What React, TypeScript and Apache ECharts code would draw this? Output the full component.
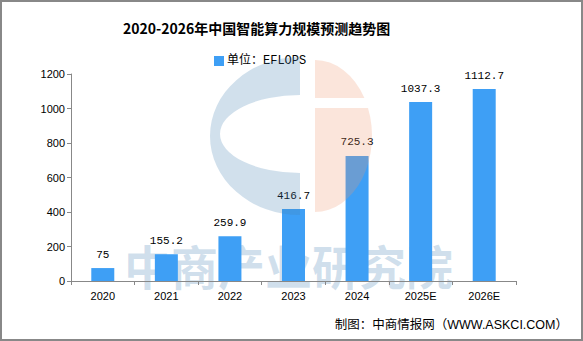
import React, { useEffect, useRef } from "react";
import * as echarts from "echarts";

const categories = ["2020", "2021", "2022", "2023", "2024", "2025E", "2026E"];
const values = [75, 155.2, 259.9, 416.7, 725.3, 1037.3, 1112.7];
const seriesName = "单位：EFLOPS";
const titleText = "2020-2026年中国智能算力规模预测趋势图";
const footerText = "制图：中商情报网（WWW.ASKCI.COM）";
const watermarkText = "中商产业研究院";

const blueLogo =
  "M300,57 A90,79 0 0 0 300,215 L300,173 A80,39 0 0 1 300,95 Z";
const redLogo =
  "M315,60 A57,76 0 0 1 364.4,98 L315,98 Z M315,108 L368,108 A57,76 0 0 1 315,212 Z";

echarts.graphic.registerShape("logoBlue", echarts.graphic.extendPath(blueLogo, {}));
echarts.graphic.registerShape("logoRed", echarts.graphic.extendPath(redLogo, {}));

export default function App() {
  const ref = useRef<HTMLDivElement>(null);
  useEffect(() => {
    if (!ref.current) return;
    const chart = echarts.init(ref.current, null, { renderer: "svg" });
    chart.setOption({
      animation: false,
      backgroundColor: "#ffffff",
      title: {
        text: titleText,
        left: 118,
        top: 16,
        textStyle: {
          fontFamily: "'Noto Sans CJK SC', sans-serif",
          fontSize: 14,
          fontWeight: "bold",
          color: "#000",
        },
      },
      legend: {
        data: [seriesName],
        left: 209,
        top: 50,
        itemWidth: 10,
        itemHeight: 10,
        itemGap: 4,
        icon: "rect",
        textStyle: {
          fontFamily: "'Liberation Mono', 'Noto Sans CJK SC', monospace",
          fontSize: 12,
          color: "#000",
          padding: [0, 0, 0, -2],
        },
      },
      grid: { left: 71, right: 67, top: 74, bottom: 60, containLabel: false },
      xAxis: {
        type: "category",
        data: categories,
        axisLine: { lineStyle: { color: "#888", width: 1 } },
        axisTick: { show: true, length: 4, lineStyle: { color: "#888" } },
        axisLabel: {
          margin: 9,
          color: "#000",
          fontSize: 11,
          fontFamily: "'Liberation Sans', Arial, sans-serif",
        },
      },
      yAxis: {
        type: "value",
        min: 0,
        max: 1200,
        interval: 200,
        axisLine: { show: true, lineStyle: { color: "#888", width: 1 } },
        axisTick: { show: true, length: 4, lineStyle: { color: "#888" } },
        splitLine: { show: false },
        axisLabel: {
          margin: 6,
          color: "#000",
          fontSize: 11,
          fontFamily: "'Liberation Sans', Arial, sans-serif",
          formatter: (v: number) => String(v),
        },
      },
      series: [
        {
          name: seriesName,
          type: "bar",
          data: values,
          barWidth: 23,
          itemStyle: { color: "#3E9FF5" },
          z: 2,
          label: {
            show: true,
            position: "top",
            distance: 8,
            color: "#000",
            fontSize: 11,
            fontFamily: "'Liberation Mono', monospace",
          },
        },
      ],
      graphic: [
        {
          type: "text",
          left: 124,
          top: 241,
          z: -1,
          silent: true,
          style: {
            text: watermarkText,
            fontSize: 47,
            fontWeight: "bold",
            fontFamily: "'Noto Sans CJK SC', sans-serif",
            fill: "rgba(70,130,180,0.25)",
          },
        },
        {
          type: "logoBlue",
          x: 0,
          y: 0,
          z: 100,
          silent: true,
          style: { fill: "rgba(70,130,180,0.25)" },
        },
        {
          type: "logoRed",
          x: 0,
          y: 0,
          z: 100,
          silent: true,
          style: { fill: "rgba(240,150,110,0.25)" },
        },
        {
          type: "text",
          right: 15,
          top: 319,
          silent: true,
          style: {
            text: footerText,
            fontSize: 12.5,
            fontFamily: "'Liberation Sans', 'Noto Sans CJK SC', sans-serif",
            fill: "#000",
          },
        },
        {
          type: "rect",
          silent: true,
          z: 200,
          shape: { x: 1, y: 1, width: 581, height: 339 },
          style: { fill: "none", stroke: "#888", lineWidth: 2 },
        },
      ],
    });
    return () => chart.dispose();
  }, []);
  return (
    <div
      ref={ref}
      style={{ position: "fixed", left: 0, top: 0, width: 583, height: 341 }}
    />
  );
}
